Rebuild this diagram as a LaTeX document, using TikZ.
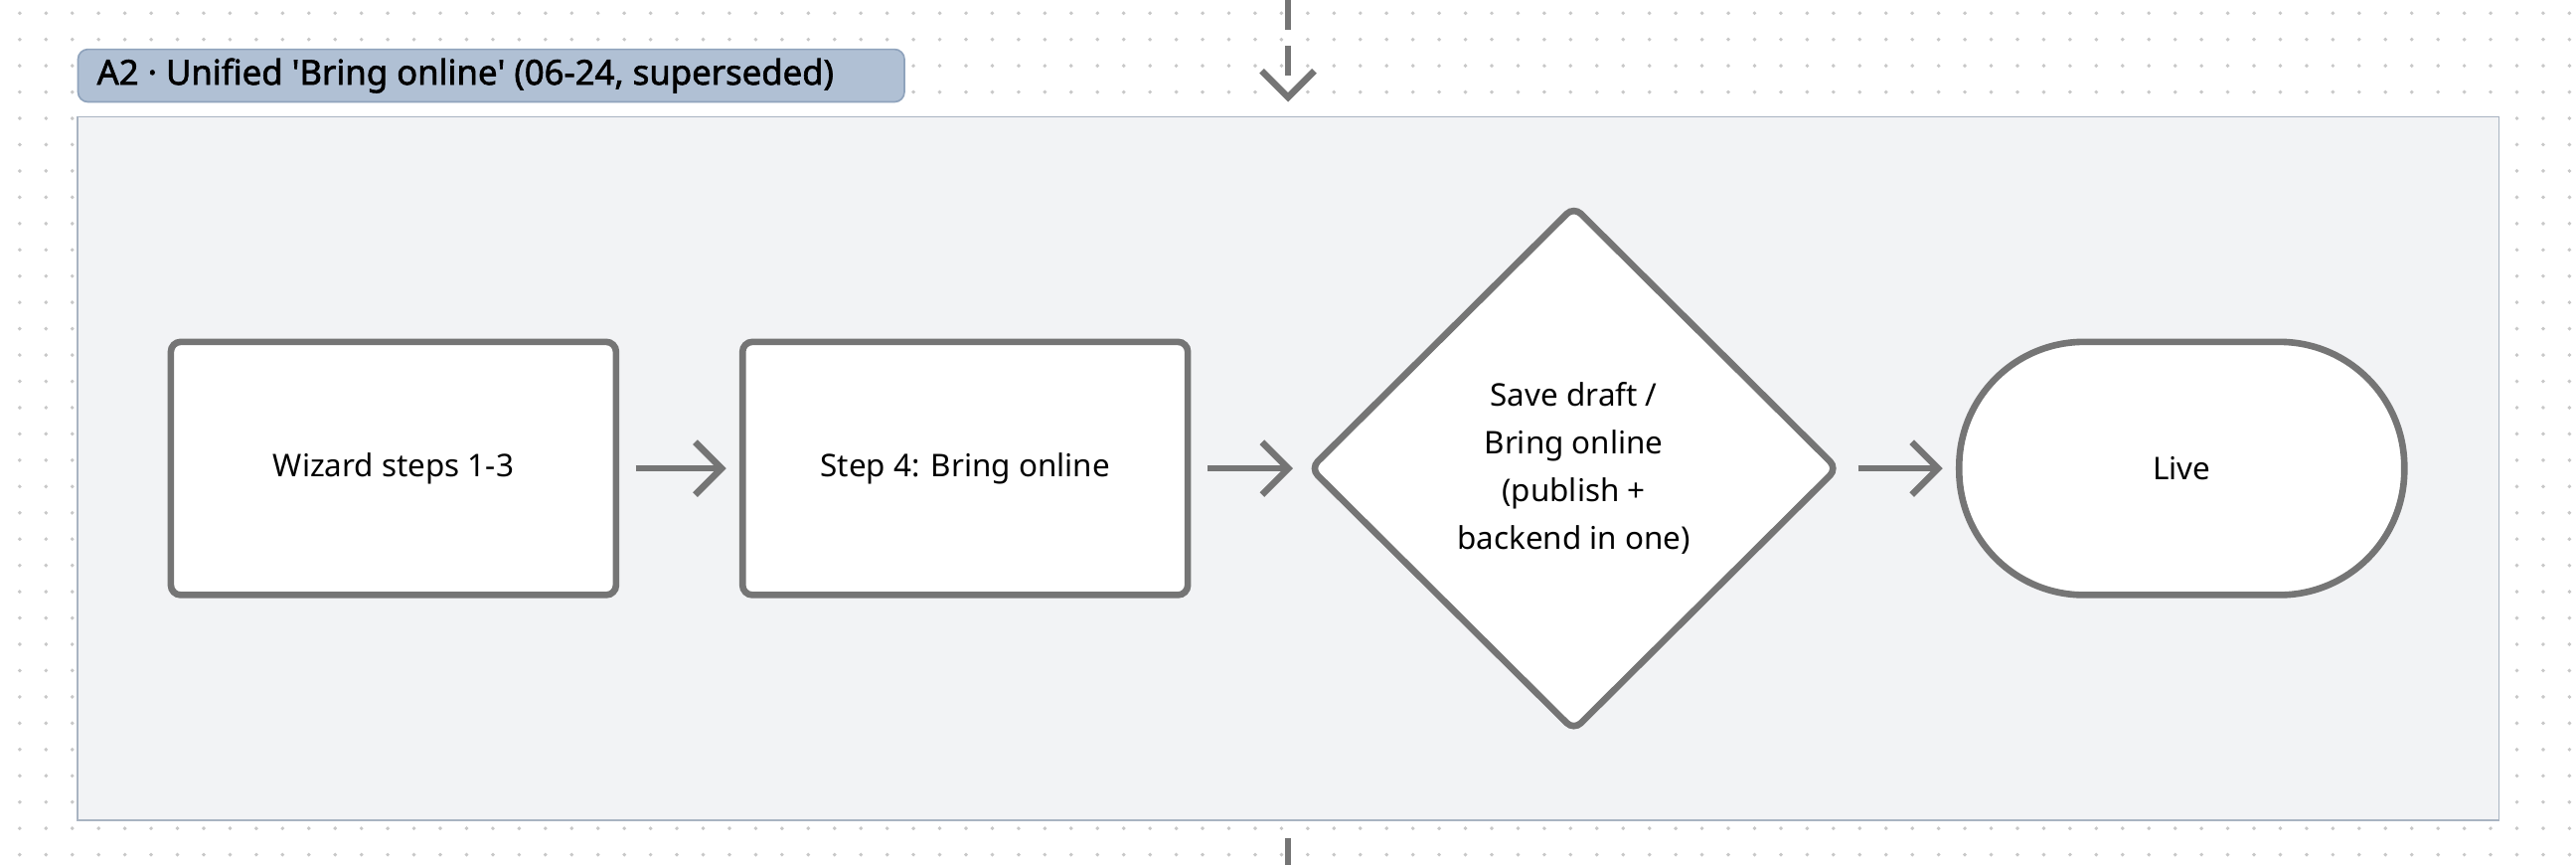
\documentclass[tikz,border=0pt]{standalone}
\usepackage{fontspec}
\setmainfont{Noto Sans}
\newfontfamily\tabfont{Noto Sans}[FakeBold=1.8]
\usetikzlibrary{shapes.geometric,arrows.meta}
\definecolor{edge}{HTML}{757575}
\definecolor{frame}{HTML}{F2F3F5}
\definecolor{framebd}{HTML}{A9B4C2}
\definecolor{tab}{HTML}{B0C0D4}
\definecolor{tabbd}{HTML}{8FA3BC}
\definecolor{dotc}{HTML}{C8C8C8}
\begin{document}
\begin{tikzpicture}[x=0.5pt,y=-0.5pt,
  box/.style={draw=edge,line width=2pt,fill=white,rounded corners=3pt,minimum width=135.5pt,minimum height=77pt,font=\fontsize{9.5}{12}\selectfont,align=center},
  arr/.style={draw=edge,line width=2pt,-{Straight Barb[length=8pt,width=16pt,line width=2pt]}},
  lbl/.style={font=\fontsize{9.5}{14.5}\selectfont,align=center}]
\useasboundingbox (0,0) rectangle (1568,526);
\fill[white] (0,0) rectangle (1568,526);
\foreach \x in {12,28,...,1568} \foreach \y in {8,24,...,526} \fill[dotc] (\x,\y) circle (0.6pt);
\draw[framebd,fill=frame,line width=0.5pt] (47,71) rectangle (1521,499);
\node[draw=tabbd,fill=tab,rounded corners=3pt,line width=0.5pt,minimum width=251.5pt,minimum height=16pt,anchor=west,inner sep=0pt] (tab) at (47,46) {};
\node[anchor=west,font=\tabfont\fontsize{10.5}{12}\selectfont] (tabt) at (52,46) {A2 · Unified \textquotesingle Bring online\textquotesingle{} (06-24, superseded)};
\coordinate (top0) at (784,0);
\coordinate (top1) at (784,62);
\draw[arr,dash pattern=on 9pt off 5pt] (top0) -- (top1);
\coordinate (bot0) at (784,510);
\coordinate (bot1) at (784,526);
\draw[edge,line width=2pt] (bot0) -- (bot1);
\node[box] (b1) at (239.5,285) {\raisebox{-1pt}{Wizard steps 1-3}};
\node[box] (b2) at (587.5,285) {\raisebox{-1pt}{Step 4: Bring online}};
\node[draw=edge,line width=2pt,fill=white,diamond,aspect=1,minimum width=161pt,minimum height=160pt,inner sep=0pt,rounded corners=3pt] (d) at (958,285) {};
\node[lbl] (dt) at (958,285) {Save draft /\\Bring online\\(publish +\\backend in one)};
\node[box,rounded corners=38pt] (live) at (1328,285) {Live};
\draw[arr] ([xshift=5pt]b1.east) -- ([xshift=-4pt]b2.west);
\draw[arr] ([xshift=5pt]b2.east) -- ([xshift=-4pt]d.west);
\draw[arr] ([xshift=5pt]d.east) -- ([xshift=-4pt]live.west);
\end{tikzpicture}
\end{document}
